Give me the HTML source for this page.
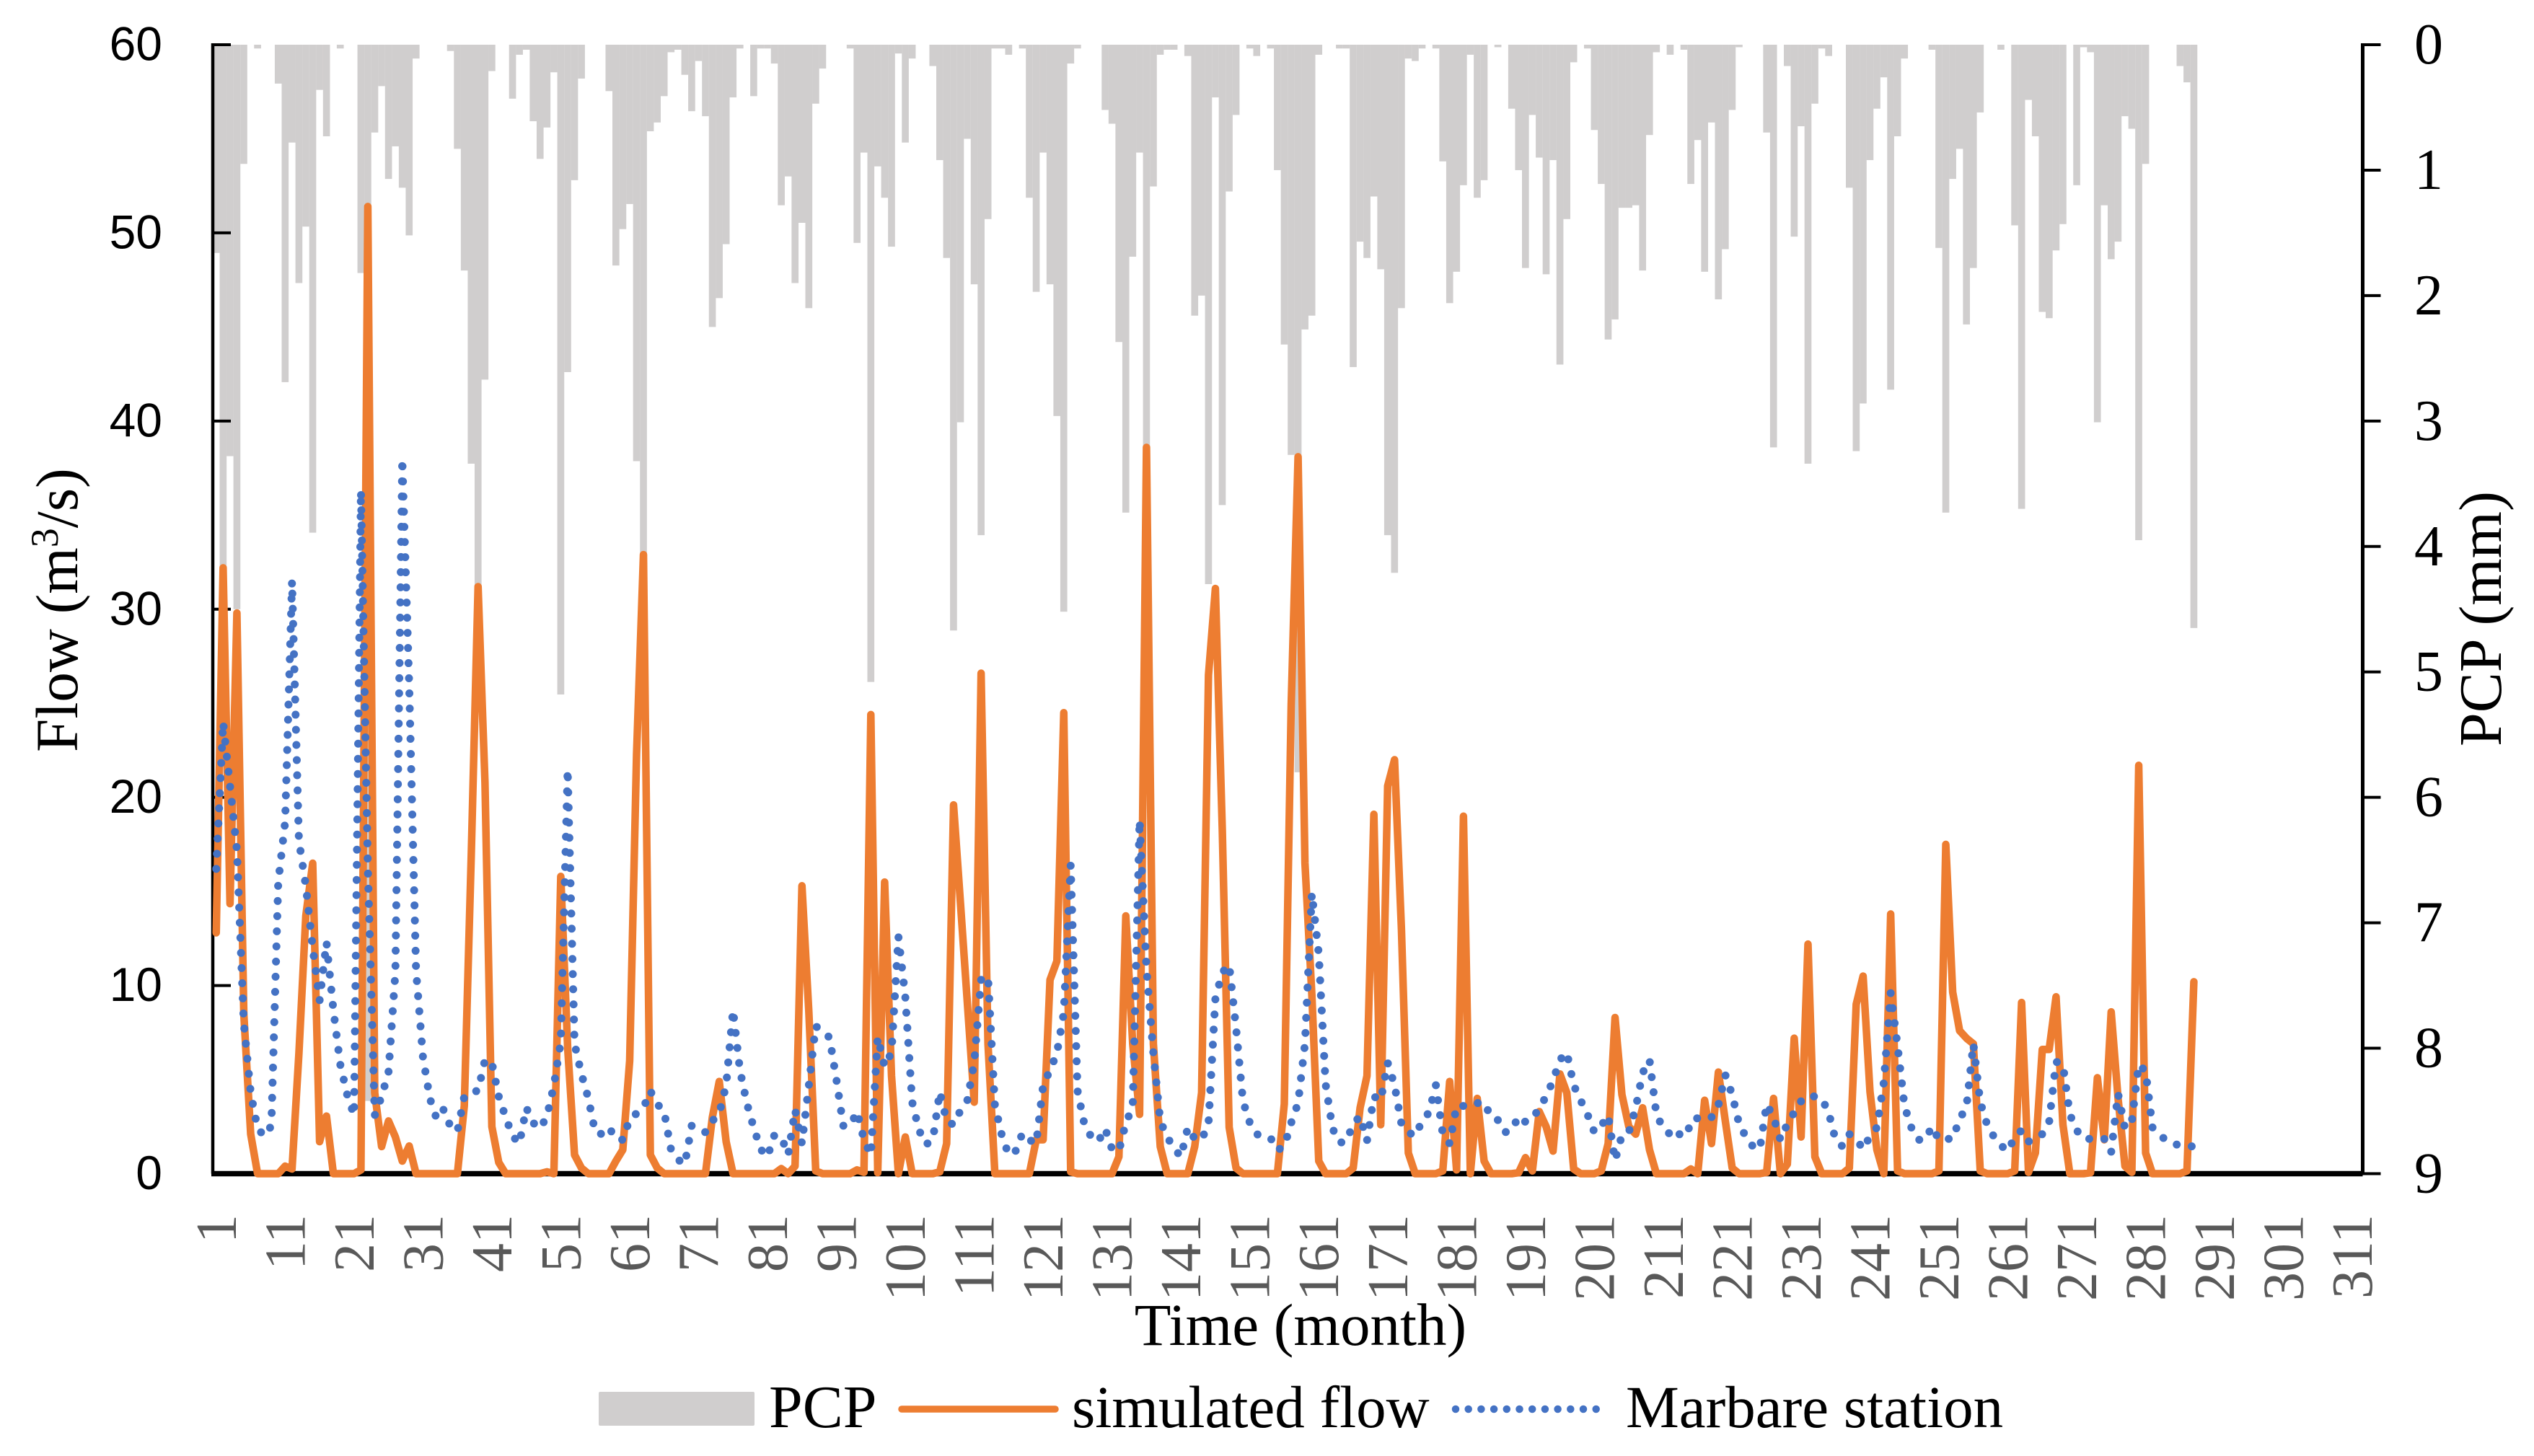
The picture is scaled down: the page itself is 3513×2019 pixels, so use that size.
<!DOCTYPE html>
<html lang="en">
<head>
<meta charset="utf-8">
<title>Flow and PCP chart</title>
<style>
html,body{margin:0;padding:0;background:#fff;}
svg{display:block;}
text{font-family:"Liberation Serif",serif;}
</style>
</head>
<body>
<svg id="chart" xmlns="http://www.w3.org/2000/svg" width="3513" height="2019" viewBox="0 0 3513 2019">
  <rect x="0" y="0" width="3513" height="2019" fill="#ffffff"/>
  <g id="bars"></g>
  <g id="axes"></g>
  <g id="lines"></g>
  <text x="1803" y="1865" font-size="83" text-anchor="middle" fill="#000">Time (month)</text>
  <text transform="translate(107,846) rotate(-90)" font-size="83" text-anchor="middle" fill="#000">Flow (m<tspan font-size="54" dy="-27">3</tspan><tspan dy="27">/s)</tspan></text>
  <text transform="translate(3467,858) rotate(-90)" font-size="84" text-anchor="middle" fill="#000">PCP (mm)</text>
  <g>
    <rect x="830" y="1930" width="216" height="47" rx="2" fill="#D0CECE"/>
    <text x="1066" y="1979" font-size="84" fill="#000">PCP</text>
    <line x1="1250" y1="1954" x2="1463" y2="1954" stroke="#ED7D31" stroke-width="9.5" stroke-linecap="round"/>
    <text x="1486" y="1979" font-size="83" fill="#000">simulated flow</text>
    <line x1="2018" y1="1954" x2="2230" y2="1954" stroke="#4472C4" stroke-width="10.5" stroke-linecap="round" stroke-dasharray="0 17.7"/>
    <text x="2254" y="1979" font-size="83" fill="#000">Marbare station</text>
  </g>
</svg>
<script>
const pcpValues = [
1.66,4.2,3.28,4.5,.95,0,.03,0,0,.31,
2.69,.78,1.9,1.45,3.89,.36,.73,0,.03,0,
0,1.82,8.42,.70,.33,1.07,.81,1.14,1.52,.11,
0,0,0,0,.05,.83,1.80,3.34,4.4,2.67,
.21,0,0,.43,.08,.04,.61,.91,.66,.22,
5.18,2.61,1.08,.27,0,0,0,.37,1.76,1.47,
1.27,3.32,4.1,.69,.62,.41,.06,.04,.24,.53,
.13,.57,2.25,2.02,1.59,.42,.03,0,.41,.03,
.03,.15,1.28,1.05,1.90,1.42,2.10,.47,.19,0,
0,0,.03,1.58,.86,5.08,.97,1.22,1.61,.07,
.78,.11,0,0,.17,.92,1.70,4.67,3.01,.75,
1.91,3.91,1.39,.03,.03,.08,0,.03,1.22,1.97,
.86,1.91,2.96,4.52,.15,.03,0,0,0,.52,
.63,2.37,3.73,1.69,.86,3.3,1.13,.08,.04,.04,
0,.09,2.16,2.0,4.3,.42,3.67,1.17,.56,0,
.03,.09,0,.03,1.0,2.39,3.27,5.8,2.27,2.16,
.08,0,0,.03,.03,2.57,1.57,1.70,1.21,1.79,
3.91,4.21,2.1,.11,.13,.03,0,.03,.93,2.06,
1.81,1.12,.08,1.22,1.08,0,.02,0,.51,1.0,
1.78,.56,.90,1.83,.92,2.55,1.39,.14,0,.03,
.68,1.11,2.35,2.19,1.3,1.3,1.28,1.8,.72,.06,
0,.08,0,.04,1.11,.76,1.81,.62,2.03,1.63,
.52,.02,0,0,0,.70,3.21,0,.17,1.53,
.65,3.34,.47,.03,.09,0,0,1.14,3.24,2.86,
.92,.51,.26,2.75,.73,.11,0,0,0,.04,
1.62,3.73,1.07,.83,2.23,1.78,.54,0,0,.04,
0,1.44,3.70,.44,.73,2.13,2.18,1.64,1.43,0,
1.12,.02,.06,3.01,1.28,1.71,1.57,.57,.67,3.95,
.95,0,0,0,0,.17,.30,4.65
];
const simulatedFlow = [
12.8,32.2,14.35,29.8,8.5,2.1,0,0,0,0,
.4,.25,6.4,13.7,16.5,1.7,3.06,0,0,0,
0,.2,51.4,4.3,1.44,2.8,1.95,.67,1.47,0,
0,0,0,0,0,0,3.6,16.8,31.2,20.8,
2.5,.6,0,0,0,0,0,0,.1,0,
15.8,6.7,1,.3,0,0,0,0,.67,1.27,
6,22.3,32.9,1,.3,0,0,0,0,0,
0,0,3,4.9,1.7,0,0,0,0,0,
0,0,.27,0,.4,15.3,8.6,.15,0,0,
0,0,0,.2,.07,24.4,.05,15.5,5.2,0,
1.95,0,0,0,0,.1,1.6,19.6,14.4,9.1,
3.8,26.6,6.9,0,0,0,0,0,0,1.8,
1.8,10.3,11.3,24.5,.1,0,0,0,0,0,
0,.9,13.7,6.9,3.15,38.6,6.9,1.44,0,0,
0,0,1.44,4.3,26.5,31.1,18.3,2.46,.3,0,
0,0,0,0,0,3.7,24.9,38.1,16.5,9.5,
.67,0,0,0,0,.3,3.5,5.2,19.1,2.6,
20.6,22,13,1.1,0,0,0,0,.15,4.9,
.2,19,0,4,.67,0,0,0,0,.05,
.85,.15,3.3,2.5,1.2,5.3,4.3,.25,0,0,
0,.15,1.6,8.3,4.2,2.5,2.1,3.5,1.27,0,
0,0,0,0,.25,0,3.9,1.6,5.4,2.8,
.3,0,0,0,0,.07,4,0,.5,7.2,
1.95,12.2,.9,0,0,0,0,.3,9,10.5,
4.35,1.27,0,13.8,.15,0,0,0,0,0,
.15,17.5,9.65,7.6,7.2,6.9,.15,0,0,0,
0,.15,9.1,.07,1.1,6.6,6.6,9.4,2.6,0,
0,0,.05,5.1,1.8,8.6,4,.4,.07,21.7,
1.1,0,0,0,0,0,.15,10.2
];
const marbareStation = [
16.2,24,20.6,17.2,8,4.3,2.4,2,2.55,15.5,
18.7,31.5,17.7,15.3,12,9.2,12.3,8.7,5.8,4.2,
3.1,36.3,16.3,3.1,4.1,5.4,10.7,38,26,10.8,
6.2,4,2.9,3.4,2.5,2.25,4.1,4.35,4.4,6.05,
5.9,4.1,3,2,1.6,3.5,2.7,2.4,3.05,4.7,
7,21.5,6.9,5.3,4,2.2,2.1,2.45,1.85,1.8,
2.9,3.2,3.5,4.4,3.7,3.3,1.27,.75,.5,2.55,
2.4,2.2,2.8,3.2,4.7,8.7,5.5,3.75,2.45,1.3,
.9,2.05,1.95,1,3.4,1.6,4.7,7.85,7.5,7.25,
5,2.55,2.55,3.3,1.8,1,7.25,5.7,6.45,12.6,
9.4,3.8,2.3,1.55,1.8,4.35,2.8,2.6,3.35,3.9,
5.9,10.3,10.5,3.65,2.05,1,1.2,2.15,1.8,1.6,
4.7,5.5,6.4,8.55,16.4,4.4,2.6,1.95,1.7,2.4,
1.3,1.2,2.7,3.55,18.8,10.9,6.4,2.8,1.95,1.35,
.9,2.45,1.85,1.8,2.65,9.3,10.7,11.1,7.75,3.85,
2.7,2.1,1.95,1.9,1.25,1.45,2.7,3.75,6.9,14.9,
11.7,4.75,2.4,1.65,1.7,2.65,3.05,1.75,4.1,3.9,
5.9,4.7,2.65,2.2,2,2.8,3.25,4.7,2.1,1.6,
3.6,3.6,3.6,3.75,3.8,3,2.85,2.2,2.3,3.05,
2.75,2.9,3.5,4.1,4.95,6.05,6.45,4.7,3.9,3.15,
2.2,2.55,3.1,.7,2.05,2.2,3.5,5.35,6.05,3.15,
2.4,2.1,1.85,2.55,2.35,3,3,3,3.65,5.25,
4.2,2.65,1.95,1.45,1.3,3.7,3,1.8,2.65,3.25,
3.85,4.15,4.1,4,3.25,1.8,1.45,2.1,1.85,1.3,
2,2.45,4.85,9.6,6.8,3.6,2.45,1.8,1.8,2.5,
1.8,1.85,1.85,2.9,3.55,6.9,3.8,2.6,1.95,1.5,
1.2,1.95,2.3,1.7,1.95,2.1,2.75,5.95,5.8,3.15,
2.3,1.85,1.85,1.85,1.85,1.15,4.25,2.4,2.8,5.8,
5.45,2.45,2.1,1.75,1.6,1.5,1.45,1.45
];
const xTickLabels = ["1","11","21","31","41","51","61","71","81","91","101","111","121","131","141","151","161","171","181","191","201","211","221","231","241","251","261","271","281","291","301","311"];
const flowTickLabels = ["0","10","20","30","40","50","60"];
const pcpTickLabels = ["0","1","2","3","4","5","6","7","8","9"];

const plotLeft = 295, plotRight = 3275.5, plotTop = 62, plotBottom = 1627.5;
const categoryCount = 312, flowMax = 60, pcpMax = 9;
const SVGNS = "http://www.w3.org/2000/svg";

function xScale(month) { return plotLeft + (month - 0.5) * (plotRight - plotLeft) / categoryCount; }
function yFlow(v) { return plotBottom - v * (plotBottom - plotTop) / flowMax; }
function yPcp(v) { return plotTop + v * (plotBottom - plotTop) / pcpMax; }
function linePath(values) {
  return values.map(function (v, i) {
    return (i ? "L" : "M") + xScale(i + 1).toFixed(2) + " " + yFlow(v).toFixed(2);
  }).join("");
}
function make(tag, parent, attrs) {
  const el = document.createElementNS(SVGNS, tag);
  for (const k in attrs) { el.setAttribute(k, attrs[k]); }
  parent.appendChild(el);
  return el;
}

const barsG = document.getElementById("bars");
const axesG = document.getElementById("axes");
const linesG = document.getElementById("lines");

pcpValues.forEach(function (v, i) {
  if (v <= 0) { return; }
  const w = (plotRight - plotLeft) / categoryCount + 0.1;
  const bar = make("rect", barsG, { x: (xScale(i + 1) - w / 2).toFixed(2), y: yPcp(0), width: w.toFixed(2), height: (yPcp(v) - yPcp(0)).toFixed(2), fill: "#D0CECE" });
  
  
});

const leftAxis = make("line", axesG, { x1: plotLeft, y1: plotTop - 2, x2: plotLeft, y2: plotBottom, stroke: "#000", "stroke-width": 4.5 });


const rightAxis = make("line", axesG, { x1: plotRight, y1: plotTop - 2, x2: plotRight, y2: plotBottom, stroke: "#000", "stroke-width": 5 });


const xAxis = make("line", axesG, { x1: plotLeft - 2, y1: plotBottom, x2: plotRight, y2: plotBottom, stroke: "#000", "stroke-width": 7.5 });



flowTickLabels.forEach(function (label) {
  const y = yFlow(Number(label));
  const tick = make("line", axesG, { x1: plotLeft, y1: y, x2: plotLeft + 25, y2: y, stroke: "#000", "stroke-width": 4 });
  
  
  const t = make("text", axesG, { x: 225, y: y + 21.5, "font-size": 66, "text-anchor": "end", fill: "#000", style: 'font-family:"Liberation Sans",sans-serif' });
  
  
  t.textContent = label;
});

pcpTickLabels.forEach(function (label) {
  const y = yPcp(Number(label));
  const tick = make("line", axesG, { x1: plotRight, y1: y, x2: plotRight + 25, y2: y, stroke: "#000", "stroke-width": 4 });
  
  
  const t = make("text", axesG, { x: 3367, y: y + 26, "font-size": 80, "text-anchor": "middle", fill: "#000" });
  
  
  t.textContent = label;
});

xTickLabels.forEach(function (label) {
  const x = xScale(Number(label));
  const t = make("text", axesG, { transform: "translate(" + (x + 27).toFixed(2) + ",1684) rotate(-90)", "font-size": 80, "text-anchor": "end", fill: "#595959" });
  
  
  t.textContent = label;
});

const flowLine = make("path", linesG, { d: linePath(simulatedFlow), fill: "none", stroke: "#ED7D31", "stroke-width": 10.5, "stroke-linejoin": "round", "stroke-linecap": "round" });


const stationLine = make("path", linesG, { d: linePath(marbareStation), fill: "none", stroke: "#4472C4", "stroke-width": 11, "stroke-linejoin": "round", "stroke-linecap": "round", "stroke-dasharray": "0 21" });


</script>
</body>
</html>
